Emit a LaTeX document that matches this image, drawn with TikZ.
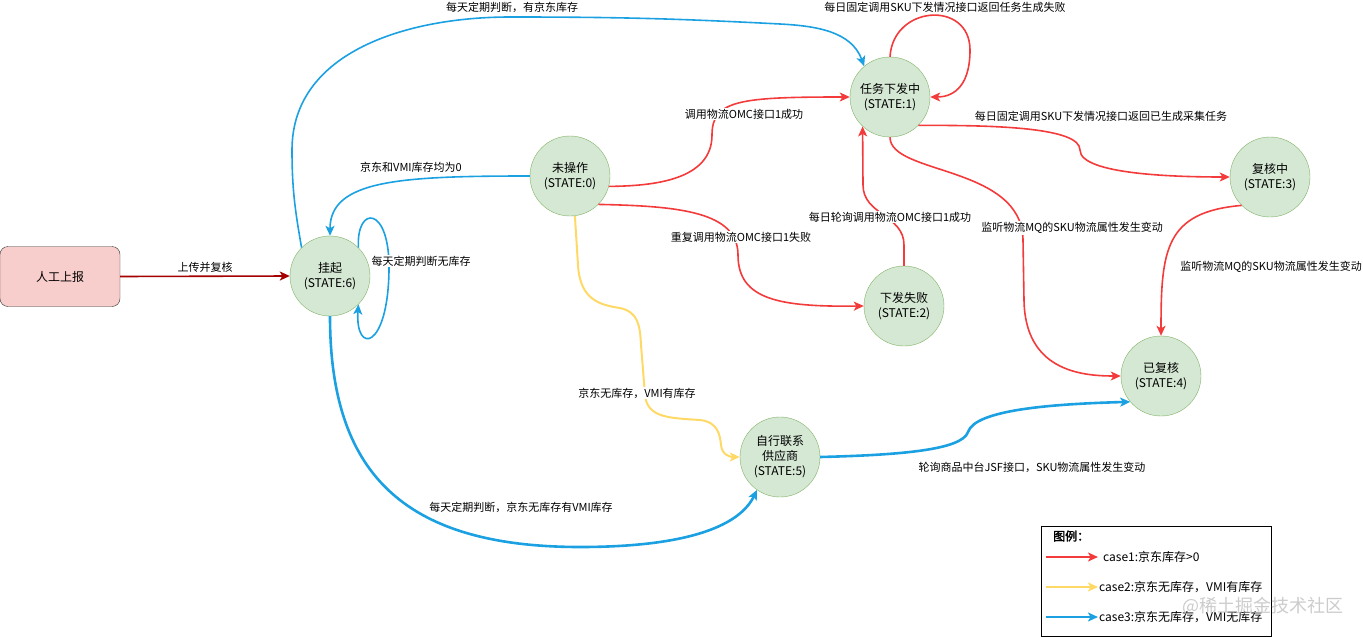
\documentclass[tikz,border=0pt]{standalone}
\usepackage{fontspec}
\setmainfont{Noto Sans CJK SC}
\newfontfamily\legendbold{Noto Sans CJK SC}[FakeBold=2]
\usetikzlibrary{arrows.meta}

\definecolor{stategreen}{HTML}{D5E8D4}
\definecolor{stateborder}{HTML}{82B366}
\definecolor{manualpink}{HTML}{F8CECC}
\definecolor{caseone}{HTML}{F33B3B}
\definecolor{casetwo}{HTML}{FFD966}
\definecolor{casethree}{HTML}{1BA1E2}
\definecolor{uploadred}{HTML}{A50000}

\tikzset{
  state/.style={circle, draw=stateborder, fill=stategreen, minimum size=80pt,
    inner sep=0pt, align=center, font=\fontsize{12}{15}\selectfont},
  manualbox/.style={rectangle, rounded corners=8pt, draw=black!80, fill=manualpink,
    minimum width=120pt, minimum height=60pt, font=\fontsize{12}{15}\selectfont},
  caption/.style={fill=white, inner sep=1pt, font=\fontsize{11}{13}\selectfont},
  keytext/.style={anchor=west, inner sep=0pt, font=\fontsize{12}{14}\selectfont},
  tip/.style={-{Stealth[length=10pt,width=9pt,inset=2.5pt]}},
  redline/.style={tip, line width=1.6pt, draw=caseone},
  yellowline/.style={tip, line width=2pt, draw=casetwo},
  blueline/.style={tip, line width=1.6pt, draw=casethree},
  thickblue/.style={tip, line width=2.6pt, draw=casethree},
  uploadline/.style={tip, line width=1.6pt, draw=uploadred}
}

\begin{document}
\begin{tikzpicture}[x=1pt, y=-1pt]
    \useasboundingbox (0,0) rectangle (1363,637);

    % states
    \node[manualbox] (manual) at (60,276.5) {人工上报};
    \node[state] (s6) at (330,276) {挂起\\(STATE:6)};
    \node[state] (s0) at (570,176) {未操作\\(STATE:0)};
    \node[state] (s1) at (890,97) {任务下发中\\(STATE:1)};
    \node[state] (s2) at (904,306) {下发失败\\(STATE:2)};
    \node[state] (s3) at (1270,177) {复核中\\(STATE:3)};
    \node[state] (s4) at (1161,376) {已复核\\(STATE:4)};
    \node[state] (s5) at (780,457) {自行联系\\供应商\\(STATE:5)};

    % case1
    \draw[redline] (s0.-15) .. controls (654,186) and (712,180) .. (712,135)
        .. controls (712,100) and (740,97) .. (s1.west);
    \draw[redline] (s0.-45) .. controls (680,206) and (738,212) .. (738,255)
        .. controls (738,300) and (780,307) .. (s2.west);
    \draw[redline] (s2.north) -- (904,245) .. controls (904,215) and (863,215) .. (863,185) -- (s1.227);
    \draw[redline] (s1.north) .. controls (893,5) and (970,0) .. (970,50)
        .. controls (970,90) and (950,97) .. (s1.east);
    \draw[redline] (s1.-45) .. controls (1000,125) and (1080,128) .. (1080,150)
        .. controls (1080,175) and (1180,177) .. (s3.west);
    \draw[redline] (s1.south) .. controls (890,175) and (1022,165) .. (1023,240) -- (1024,300)
        .. controls (1025,370) and (1080,376) .. (s4.west);
    \draw[redline] (s3.225) .. controls (1165,212) and (1161,250) .. (s4.north);

    % case2
    \draw[yellowline] (s0.-83) -- (578,265) .. controls (580,300) and (600,305) .. (620,308)
        .. controls (638,312) and (640,325) .. (641,345) -- (645,395)
        .. controls (647,418) and (670,418) .. (700,420)
        .. controls (718,422) and (720,435) .. (721,445)
        .. controls (722,455) and (730,457) .. (s5.west);

    % case3
    \draw[blueline] (s6.135) to[out=100,in=270] (292,150) to[out=90,in=180] (510,17)
        to[out=0,in=177] (780,24) to[out=-3,in=110] (s1.130);
    \draw[blueline] (s0.west) .. controls (400,176) and (330,180) .. (s6.north);
    \draw[blueline] (s6.45) .. controls (356,205) and (390,205) .. (389,270)
        .. controls (388,350) and (355,355) .. (s6.-45);
    \draw[thickblue] (s6.south) .. controls (330,470) and (400,547) .. (580,547)
        .. controls (690,547) and (740,525) .. (s5.235);
    \draw[thickblue] (s5.east) .. controls (900,455) and (962,450) .. (968,432)
        .. controls (975,410) and (1050,404) .. (s4.220);

    \draw[uploadline] (manual.east) -- (s6.west);

    % labels
    \node[caption] (upload) at (205,267) {上传并复核};
    \node[caption] (noStock) at (421,261) {每天定期判断无库存};
    \node[caption] (bothZero) at (411,167) {京东和VMI库存均为0};
    \node[caption] (hasJd) at (512,7) {每天定期判断，有京东库存};
    \node[caption] (omcOk) at (744,114) {调用物流OMC接口1成功};
    \node[caption] (omcFail) at (741,237) {重复调用物流OMC接口1失败};
    \node[caption] (taskFail) at (945,7) {每日固定调用SKU下发情况接口返回任务生成失败};
    \node[caption] (taskOk) at (1101,116) {每日固定调用SKU下发情况接口返回已生成采集任务};
    \node[caption] (pollOk) at (890,217) {每日轮询调用物流OMC接口1成功};
    \node[caption] (mqOne) at (1072,228) {监听物流MQ的SKU物流属性发生变动};
    \node[caption] (mqTwo) at (1271,267) {监听物流MQ的SKU物流属性发生变动};
    \node[caption] (vmiYes) at (637,393) {京东无库存，VMI有库存};
    \node[caption] (dailyVmi) at (521,507) {每天定期判断，京东无库存有VMI库存};
    \node[caption] (jsf) at (1032,467) {轮询商品中台JSF接口，SKU物流属性发生变动};

    % legend
    \draw[black, line width=1pt] (1041,526) rectangle (1271,636);
    \node[keytext, font=\fontsize{12}{14}\legendbold] (keyTitle) at (1053,536) {图例：};
    \coordinate (keyA) at (1046,557);
    \coordinate (keyB) at (1046,587);
    \coordinate (keyC) at (1046,617);
    \draw[redline] (keyA) -- ++(52,0);
    \draw[yellowline] (keyB) -- ++(52,0);
    \draw[blueline, line width=2pt] (keyC) -- ++(52,0);
    \node[keytext] (keyOne) at (1103,557) {case1:京东库存>0};
    \node[keytext] (keyTwo) at (1099,587) {case2:京东无库存，VMI有库存};
    \node[keytext] (keyThree) at (1099,617) {case3:京东无库存，VMI无库存};

    \node[text=black!25, opacity=0.8, font=\fontsize{18}{20}\selectfont] (mark) at (1263,606) {@稀土掘金技术社区};
\end{tikzpicture}
\end{document}
